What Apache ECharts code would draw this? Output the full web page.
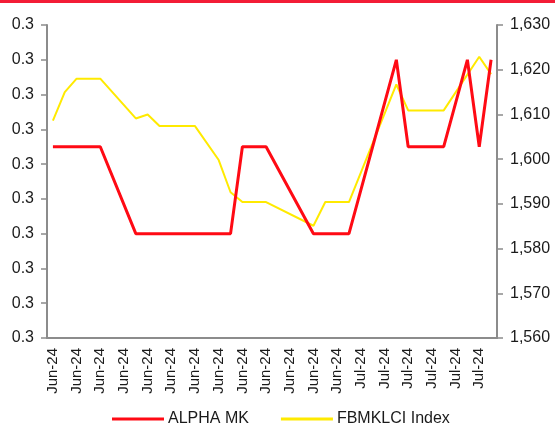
<!DOCTYPE html>
<html>
<head>
<meta charset="utf-8">
<script src="https://cdn.jsdelivr.net/npm/echarts@6/dist/echarts.min.js"></script>
<style>
  html, body { margin: 0; padding: 0; background: #fff; }
  #chart { width: 555px; height: 424px; }
</style>
</head>
<body>
<div id="chart"></div>
<script>
// Calendar days on the category axis (one slot per day)
const dates = [
  '2024-06-05','2024-06-06','2024-06-07','2024-06-08','2024-06-09','2024-06-10',
  '2024-06-11','2024-06-12','2024-06-13','2024-06-14','2024-06-15','2024-06-16',
  '2024-06-17','2024-06-18','2024-06-19','2024-06-20','2024-06-21','2024-06-22',
  '2024-06-23','2024-06-24','2024-06-25','2024-06-26','2024-06-27','2024-06-28',
  '2024-06-29','2024-06-30','2024-07-01','2024-07-02','2024-07-03','2024-07-04',
  '2024-07-05','2024-07-06','2024-07-07','2024-07-08','2024-07-09','2024-07-10',
  '2024-07-11','2024-07-12'
];

// ALPHA MK share price (RM), left axis; null = no point, line joins across
const alphaMK = [
  0.305, null, null, null, 0.305, null, null, 0.300, null, null, null, null,
  null, null, null, 0.300, 0.305, null, 0.305, null, null, null, 0.300, null,
  null, 0.300, null, null, null, 0.310, 0.305, null, null, 0.305, null, 0.310,
  0.305, 0.310
];

// FBMKLCI Index level, right axis
const fbmklci = [
  1608.6, 1615.0, 1618.0, null, 1618.0, null, null, 1609.1, 1610.0, 1607.4, null, null,
  1607.4, null, 1599.8, 1592.6, 1590.4, null, 1590.4, null, null, null, 1585.1, 1590.4,
  null, 1590.4, null, null, null, 1616.7, 1610.9, null, null, 1610.9, null, null,
  1622.9, 1619.0
];

const seriesNames = ['ALPHA MK', 'FBMKLCI Index'];
const monthNames = ['Jan','Feb','Mar','Apr','May','Jun','Jul','Aug','Sep','Oct','Nov','Dec'];

function monthLabel(d) {
  const parts = d.split('-');
  return monthNames[parseInt(parts[1], 10) - 1] + '-' + parts[0].slice(2);
}

const axisGray = '#8c8c8c';
const textColor = '#1a1a1a';
const font = 'Liberation Sans, Arial, sans-serif';

const chart = echarts.init(document.getElementById('chart'), null, { renderer: 'canvas' });

chart.setOption({
  animation: false,
  backgroundColor: '#ffffff',
  graphic: [{
    type: 'rect',
    left: 0, top: 0,
    shape: { width: 555, height: 3 },
    style: { fill: '#f31d36' }
  }],
  grid: { left: 47, right: 58, top: 25, bottom: 86, containLabel: false },
  legend: {
    data: seriesNames,
    left: 107, top: 406,
    icon: 'rect',
    itemWidth: 52, itemHeight: 3,
    itemGap: 32,
    textStyle: { fontFamily: font, fontSize: 16, color: textColor, padding: [0, 0, 0, -1] }
  },
  xAxis: {
    type: 'category',
    data: dates,
    boundaryGap: true,
    axisLine: { lineStyle: { color: axisGray, width: 2 } },
    axisTick: { interval: 1, length: 5, lineStyle: { color: axisGray, width: 1.5 } },
    axisLabel: {
      interval: 1, rotate: 90, margin: 10,
      fontFamily: font, fontSize: 15, color: textColor,
      formatter: monthLabel
    },
    splitLine: { show: false }
  },
  yAxis: [{
    type: 'value',
    min: 0.294, max: 0.312, interval: 0.002,
    axisLine: { show: true, lineStyle: { color: axisGray, width: 2 } },
    axisTick: { show: true, length: 6, lineStyle: { color: axisGray, width: 1.5 } },
    axisLabel: {
      margin: 13, fontFamily: font, fontSize: 16, color: textColor,
      formatter: v => v.toFixed(1)
    },
    splitLine: { show: false }
  }, {
    type: 'value',
    position: 'right',
    min: 1560, max: 1630, interval: 10,
    axisLine: { show: true, lineStyle: { color: axisGray, width: 2 } },
    axisTick: { show: true, length: 6, lineStyle: { color: axisGray, width: 1.5 } },
    axisLabel: {
      margin: 13, fontFamily: font, fontSize: 16, color: textColor,
      formatter: v => v.toLocaleString('en-US')
    },
    splitLine: { show: false }
  }],
  series: [{
    name: seriesNames[0],
    type: 'line',
    yAxisIndex: 0,
    data: alphaMK,
    connectNulls: true,
    showSymbol: false,
    symbol: 'none',
    color: '#ff0a14',
    lineStyle: { color: '#ff0a14', width: 3 },
    z: 3
  }, {
    name: seriesNames[1],
    type: 'line',
    yAxisIndex: 1,
    data: fbmklci,
    connectNulls: true,
    showSymbol: false,
    symbol: 'none',
    color: '#ffea00',
    lineStyle: { color: '#ffea00', width: 2 },
    z: 2
  }]
});
</script>
</body>
</html>
